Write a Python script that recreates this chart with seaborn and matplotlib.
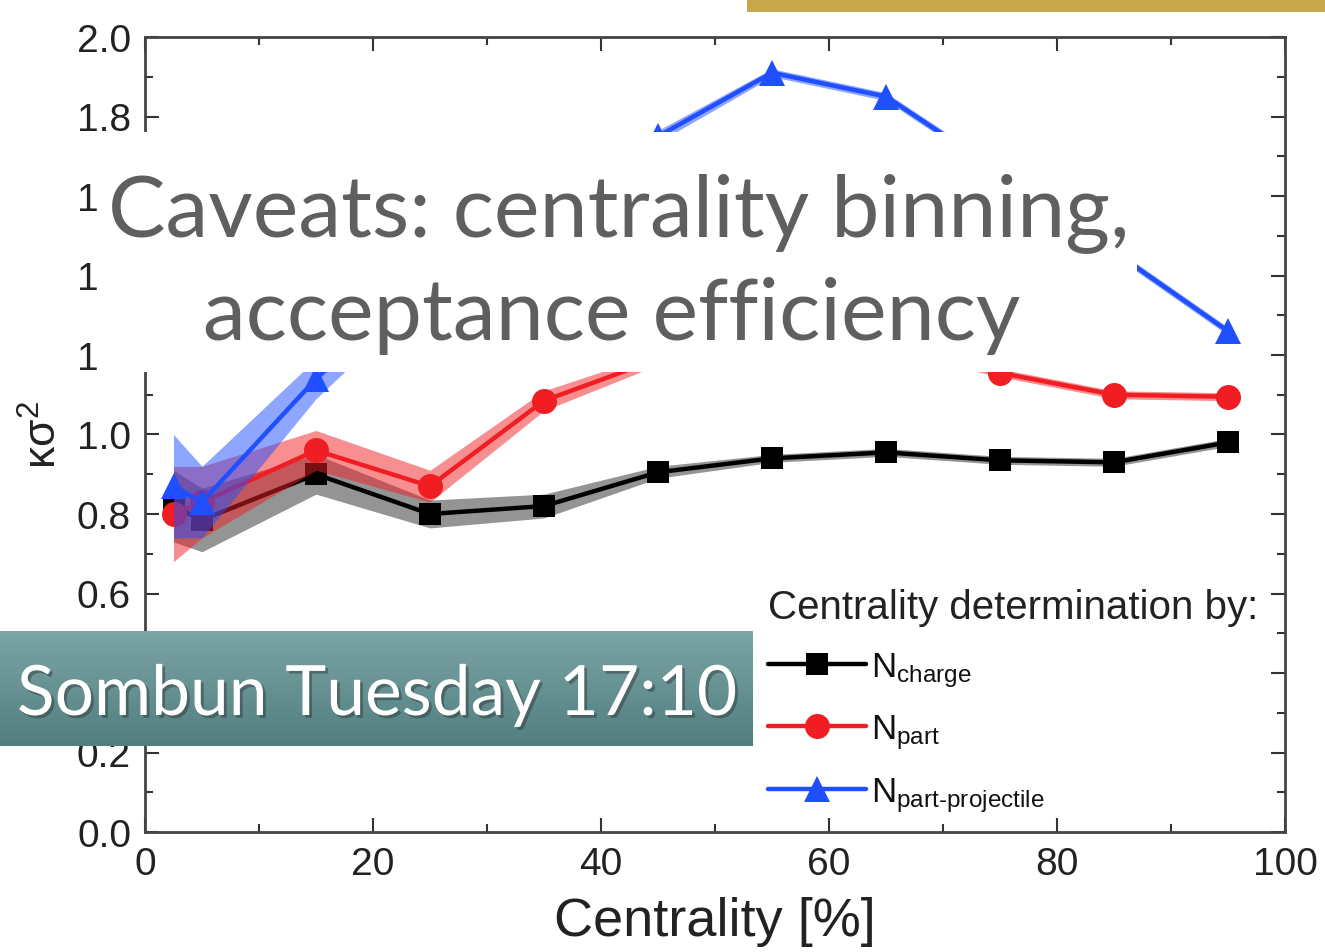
import numpy as np
import pandas as pd
import matplotlib
matplotlib.use("Agg")
import matplotlib.pyplot as plt
import matplotlib.patheffects as pe
from matplotlib.patches import Rectangle
from matplotlib.ticker import MultipleLocator
import seaborn as sns

# ---------------- data ----------------
centrality = [2.5, 5, 15, 25, 35, 45, 55, 65, 75, 85, 95]
k_charge = [0.82, 0.785, 0.90, 0.80, 0.82, 0.905, 0.94, 0.955, 0.935, 0.93, 0.98]
k_charge_err = [0.09, 0.08, 0.05, 0.035, 0.03, 0.015, 0.01, 0.01, 0.01, 0.01, 0.01]
k_part = [0.80, 0.83, 0.96, 0.87, 1.085, 1.19, 1.24, 1.22, 1.155, 1.10, 1.095]
k_part_err = [0.12, 0.09, 0.05, 0.04, 0.025, 0.015, 0.01, 0.01, 0.01, 0.01, 0.01]
k_proj = [0.87, 0.83, 1.14, 1.40, 1.60, 1.75, 1.91, 1.85, 1.66, 1.46, 1.26]
k_proj_err = [0.13, 0.09, 0.05, 0.04, 0.03, 0.015, 0.01, 0.01, 0.01, 0.01, 0.01]

series_labels = [r"N$_{\mathrm{charge}}$", r"N$_{\mathrm{part}}$",
                 r"N$_{\mathrm{part\text{-}projectile}}$"]
legend_title = "Centrality determination by:"
x_label = "Centrality [%]"
y_label = r"κσ$^{2}$"
overlay_line1 = "Caveats: centrality binning,"
overlay_line2 = "acceptance efficiency"
talk_label = "Sombun Tuesday 17:10"

# ---------------- style ----------------
sns.set_theme(style="ticks")
plt.rcParams["font.family"] = ["Liberation Sans", "DejaVu Sans"]
plt.rcParams["mathtext.fontset"] = "custom"
plt.rcParams["mathtext.rm"] = "Liberation Sans"
plt.rcParams["mathtext.it"] = "Liberation Sans:italic"
plt.rcParams["mathtext.bf"] = "Liberation Sans:bold"

W, H = 1325, 953
fig = plt.figure(figsize=(W / 100, H / 100), dpi=100)
fig.patch.set_facecolor("white")


def fx(px):
    return px / W


def fy(py):
    return 1 - py / H


ax = fig.add_axes([fx(145), fy(833), fx(1285) - fx(145), fy(38) - fy(833)])

colors = ["#000000", "#f01e23", "#1f4fff"]
markers = ["s", "o", "^"]
msizes = [16, 18, 19]
band_alpha = [0.42, 0.5, 0.5]
ys = [k_charge, k_part, k_proj]
errs = [k_charge_err, k_part_err, k_proj_err]

x = np.array(centrality)
for i in range(3):
    y = np.array(ys[i])
    e = np.array(errs[i])
    ax.fill_between(x, y - e, y + e, color=colors[i], alpha=band_alpha[i],
                    linewidth=0, zorder=2 + 2 * i)
    df = pd.DataFrame({"c": x, "k": y})
    sns.lineplot(data=df, x="c", y="k", ax=ax, color=colors[i], marker=markers[i],
                 markersize=msizes[i], markeredgewidth=0, linewidth=3.2,
                 label=series_labels[i], zorder=3 + 2 * i)

ax.set_xlim(0, 100)
ax.set_ylim(0, 2.0)
ax.xaxis.set_major_locator(MultipleLocator(20))
ax.xaxis.set_minor_locator(MultipleLocator(10))
ax.yaxis.set_major_locator(MultipleLocator(0.2))
ax.yaxis.set_minor_locator(MultipleLocator(0.1))
ax.yaxis.set_major_formatter(matplotlib.ticker.FormatStrFormatter("%.1f"))
ax.tick_params(which="both", direction="in", top=True, right=True,
               color="#333333", width=1.5)
ax.tick_params(which="major", length=10, labelsize=28, labelcolor="#222222", pad=10)
ax.tick_params(which="minor", length=6)
for s in ax.spines.values():
    s.set_color("#444444")
    s.set_linewidth(2)

ax.set_xlabel(x_label, fontsize=39, color="#222222", labelpad=10)
ax.set_ylabel(y_label, fontsize=32, color="#222222", labelpad=8)

leg = ax.legend(loc="upper left", bbox_to_anchor=(fx(751), fy(572)),
                bbox_transform=fig.transFigure, frameon=False, fontsize=25,
                title=legend_title, title_fontsize=29, handlelength=2.8,
                handletextpad=0.15, labelspacing=0.68, borderpad=0,
                alignment="left")
leg.get_title().set_color("#222222")
for t in leg.get_texts():
    t.set_color("#111111")

# ---------------- slide overlays ----------------
fig.add_artist(Rectangle((fx(97), fy(373)), fx(1137) - fx(97), fy(133) - fy(373),
                         transform=fig.transFigure, facecolor="white",
                         edgecolor="none", zorder=20))
fig.text(fx(619), fy(236), overlay_line1, ha="center", va="baseline",
         fontsize=62, color="#5f5f5f", family=["Lato", "DejaVu Sans"], zorder=21)
fig.text(fx(612), fy(340), overlay_line2, ha="center", va="baseline",
         fontsize=62, color="#5f5f5f", family=["Lato", "DejaVu Sans"], zorder=21)

# gold bar top right
fig.add_artist(Rectangle((fx(747), fy(13)), 1 - fx(747), fy(0) - fy(13),
                         transform=fig.transFigure, facecolor="#c9a74d",
                         edgecolor="none", zorder=20))

# teal label box with gradient
tax = fig.add_axes([0, fy(747), fx(752), fy(632) - fy(747)], zorder=30)
grad = np.linspace(0, 1, 100).reshape(-1, 1)
cmap = matplotlib.colors.LinearSegmentedColormap.from_list("teal", ["#7ca5a5", "#527e80"])
tax.imshow(grad, aspect="auto", cmap=cmap, extent=[0, 1, 1, 0])
tax.set_xlim(0, 1)
tax.set_ylim(1, 0)
tax.axis("off")
fig.text(fx(377), fy(716), talk_label, ha="center", va="baseline",
         fontsize=50, color="white", family=["Lato", "DejaVu Sans"], zorder=40,
         path_effects=[pe.withSimplePatchShadow(offset=(2, -2), shadow_rgbFace="k", alpha=0.35)])

fig.savefig("out.png", dpi=100)
